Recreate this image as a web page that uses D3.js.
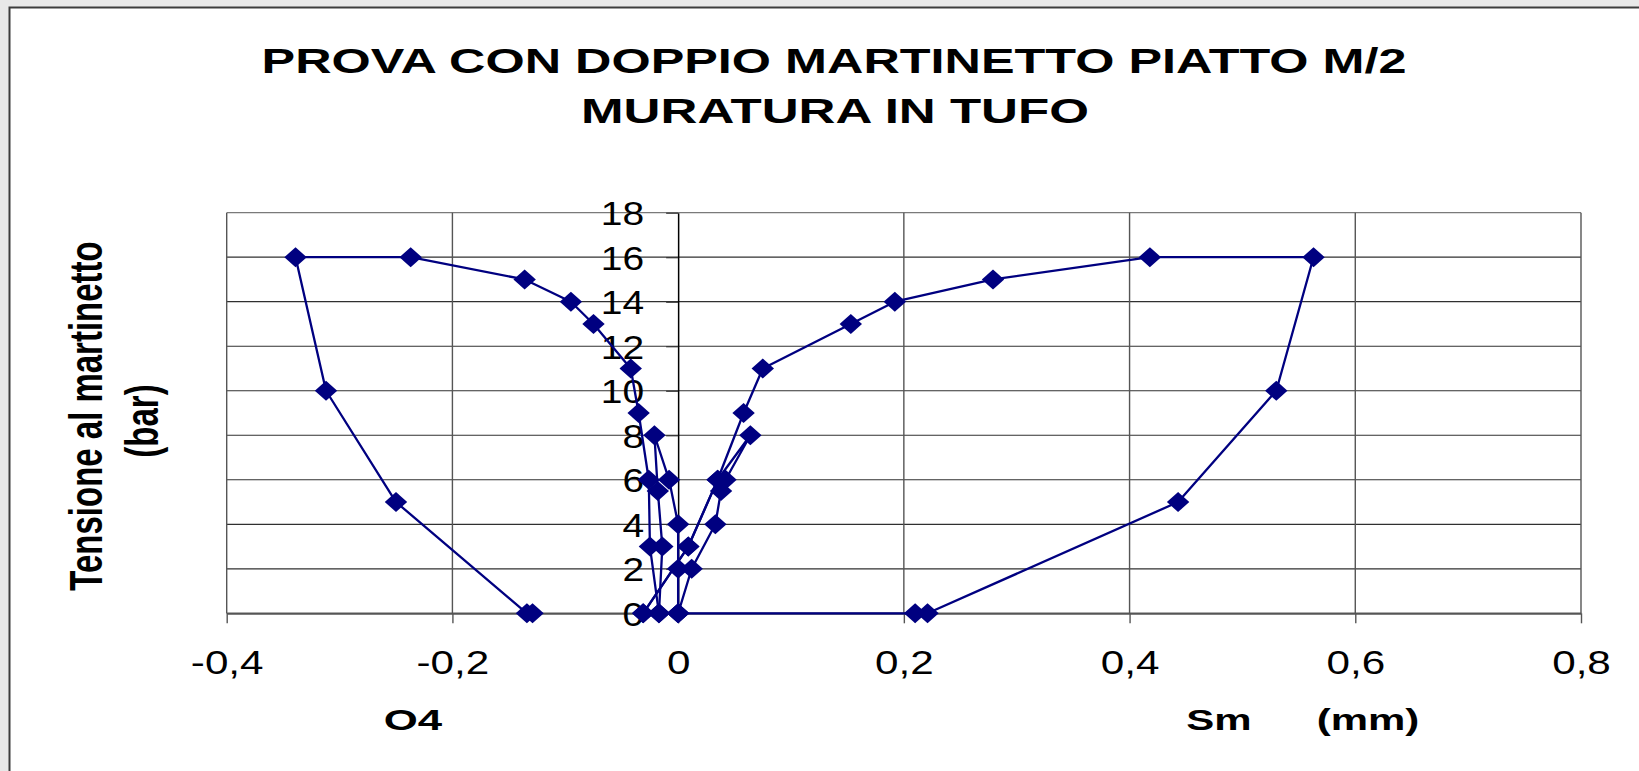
<!DOCTYPE html>
<html>
<head>
<meta charset="utf-8">
<script src="https://cdn.jsdelivr.net/npm/d3@7"></script>
<style>
  html, body { margin: 0; padding: 0; background: #e8e8e8; }
  svg { display: block; }
</style>
</head>
<body>
<svg id="chart" width="1639" height="771"></svg>
<script>
// ---- data ----
const titleLines = ["PROVA CON DOPPIO MARTINETTO PIATTO M/2", "MURATURA IN TUFO"];
const yTitleLines = ["Tensione al martinetto", "(bar)"];
const xTitleLeft = "O4";
const xTitleRight = ["Sm", "(mm)"];
const xTicks = [-0.4, -0.2, 0, 0.2, 0.4, 0.6, 0.8];
const yTicks = [0, 2, 4, 6, 8, 10, 12, 14, 16, 18];

// O4 - first cycle
const o4aX = [0, 0, 0, -0.008, -0.021, -0.018, -0.014, -0.017];
const o4aY = [0, 2, 4, 6, 8, 5.5, 3, 0];
// O4 - second cycle
const o4bX = [-0.017, -0.025, -0.026, -0.035, -0.042, -0.075, -0.095, -0.136, -0.237, -0.339, -0.312, -0.250, -0.134, -0.129];
const o4bY = [0, 3, 6, 9, 11, 13, 14, 15, 16, 16, 10, 5, 0, 0];
// Sm - first cycle
const smaX = [0, 0.012, 0.033, 0.038, 0.042, 0.064, 0.035, 0.009, -0.031];
const smaY = [0, 2, 4, 5.5, 6, 8, 6, 3, 0];
// Sm - second cycle
const smbX = [-0.031, 0.009, 0.035, 0.058, 0.075, 0.153, 0.192, 0.279, 0.418, 0.563, 0.530, 0.443, 0.221, 0.210, 0];
const smbY = [0, 3, 6, 9, 11, 13, 14, 15, 16, 16, 10, 5, 0, 0, 0];

const seriesList = [[o4aX, o4aY], [o4bX, o4bY], [smaX, smaY], [smbX, smbY]];

// ---- drawing ----
const svg = d3.select("#chart");
const FONT = "'Liberation Sans', Arial, Helvetica, sans-serif";
const NAVY = "#000080";

svg.append("rect").attr("x", 0).attr("y", 0).attr("width", 1639).attr("height", 771).attr("fill", "#e8e8e8");
svg.append("rect").attr("x", 9.5).attr("y", 7.5).attr("width", 1700).attr("height", 800)
  .attr("fill", "#ffffff").attr("stroke", "#3c3c3c").attr("stroke-width", 2);

const x = d3.scaleLinear().domain([-0.4, 0.8]).range([226.7, 1581]);
const y = d3.scaleLinear().domain([0, 18]).range([613.3, 212.7]);

// gridlines
const grid = svg.append("g");
grid.selectAll("line.h").data(yTicks).join("line")
  .attr("x1", x(-0.4)).attr("x2", x(0.8))
  .attr("y1", d => y(d)).attr("y2", d => y(d))
  .attr("stroke", d => d === 18 ? "#7a7a7a" : "#303030").attr("stroke-width", 1.2);
grid.selectAll("line.v").data(xTicks.filter(d => d !== 0)).join("line")
  .attr("x1", d => x(d)).attr("x2", d => x(d))
  .attr("y1", y(18)).attr("y2", y(0))
  .attr("stroke", "#555").attr("stroke-width", 1.4);

// x axis (at y=0)
const fmt = v => v === 0 ? "0" : String(+v.toFixed(1)).replace(".", ",");
const xAxis = svg.append("g").attr("transform", `translate(0,${y(0)})`)
  .call(d3.axisBottom(x).tickValues(xTicks).tickFormat(fmt).tickSize(10).tickSizeOuter(0).tickPadding(27));
xAxis.select(".domain").attr("stroke", "#555").attr("stroke-width", 2);
xAxis.selectAll(".tick line").attr("stroke", "#555").attr("stroke-width", 1.4);
xAxis.selectAll(".tick text")
  .attr("font-family", FONT).attr("font-size", 33).attr("fill", "#000")
  .attr("y", null).attr("dy", null)
  .attr("transform", "translate(0,61) scale(1.28,1)");

// y axis (at x=0)
const yAxis = svg.append("g").attr("transform", `translate(${x(0)},0)`)
  .call(d3.axisLeft(y).tickValues(yTicks).tickFormat(d => String(d)).tickSize(12).tickSizeOuter(0));
yAxis.select(".domain").attr("stroke", "#000").attr("stroke-width", 1.5);
yAxis.selectAll(".tick line").attr("stroke", "#333").attr("stroke-width", 1.2);
yAxis.selectAll(".tick text")
  .attr("font-family", FONT).attr("font-size", 33).attr("fill", "#000")
  .attr("x", null).attr("dy", null)
  .attr("transform", "translate(-34,12) scale(1.18,1)");

// series lines
const line = d3.line().x(d => x(d[0])).y(d => y(d[1]));
const plot = svg.append("g");
seriesList.forEach(([xs, ys]) => {
  const pts = xs.map((v, i) => [v, ys[i]]);
  plot.append("path").datum(pts).attr("d", line)
    .attr("fill", "none").attr("stroke", NAVY).attr("stroke-width", 2.3).attr("stroke-linejoin", "round");
});
const sym = d3.symbol().type(d3.symbolSquare).size(200);
seriesList.forEach(([xs, ys]) => {
  const pts = xs.map((v, i) => [v, ys[i]]);
  plot.selectAll(null).data(pts).join("path")
    .attr("d", sym)
    .attr("transform", d => `translate(${x(d[0])},${y(d[1])}) scale(1.12,1) rotate(45)`)
    .attr("fill", NAVY);
});

// title
svg.append("text").attr("transform", "translate(834,72.7) scale(1.44,1)")
  .attr("text-anchor", "middle").attr("font-family", FONT).attr("font-weight", "bold")
  .attr("font-size", 35).attr("fill", "#000").text(titleLines[0]);
svg.append("text").attr("transform", "translate(835,123.3) scale(1.46,1)")
  .attr("text-anchor", "middle").attr("font-family", FONT).attr("font-weight", "bold")
  .attr("font-size", 35).attr("fill", "#000").text(titleLines[1]);

// y title
svg.append("text").attr("transform", "translate(101.7,416) scale(1.4,1) rotate(-90)")
  .attr("text-anchor", "middle").attr("font-family", FONT).attr("font-weight", "bold")
  .attr("font-size", 33).attr("fill", "#000").text(yTitleLines[0]);
svg.append("text").attr("transform", "translate(157.7,421) scale(1.4,1) rotate(-90)")
  .attr("text-anchor", "middle").attr("font-family", FONT).attr("font-weight", "bold")
  .attr("font-size", 33).attr("fill", "#000").text(yTitleLines[1]);

// x titles
svg.append("text").attr("transform", "translate(413,729.5) scale(1.46,1)")
  .attr("text-anchor", "middle").attr("font-family", FONT).attr("font-weight", "bold")
  .attr("font-size", 30).attr("fill", "#000").text(xTitleLeft);
svg.append("text").attr("transform", "translate(1219,729.5) scale(1.4,1)")
  .attr("text-anchor", "middle").attr("font-family", FONT).attr("font-weight", "bold")
  .attr("font-size", 30).attr("fill", "#000").text(xTitleRight[0]);
svg.append("text").attr("transform", "translate(1368,729.5) scale(1.4,1)")
  .attr("text-anchor", "middle").attr("font-family", FONT).attr("font-weight", "bold")
  .attr("font-size", 30).attr("fill", "#000").text(xTitleRight[1]);
</script>
</body>
</html>
